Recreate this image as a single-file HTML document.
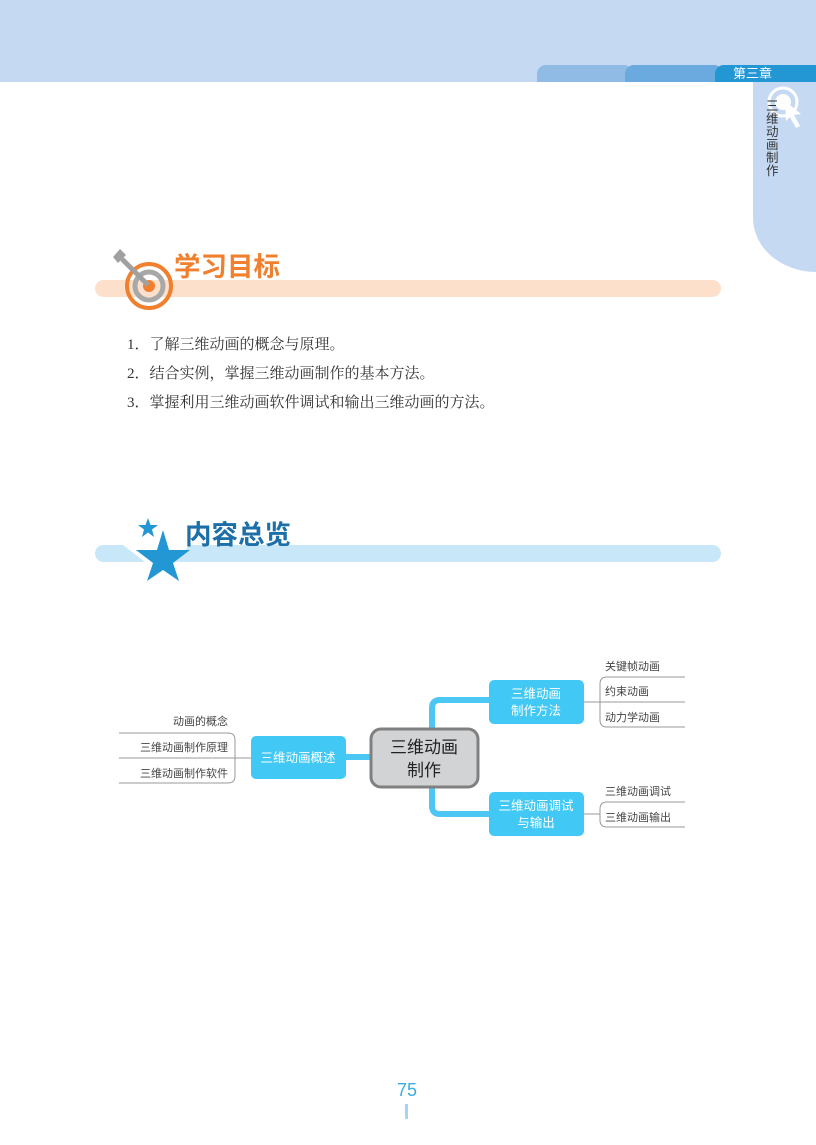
<!DOCTYPE html>
<html><head><meta charset="utf-8"><style>
*{margin:0;padding:0}
body{width:816px;height:1145px;position:relative;background:#fff;font-family:"Liberation Sans","Noto Sans CJK SC",sans-serif;overflow:hidden}
.a{position:absolute}
.li{position:absolute;left:127px;font-family:"Liberation Serif","Noto Serif CJK SC",serif;font-size:15px;color:#333}
</style></head><body>
<div class="a" style="left:0;top:0;width:816px;height:82px;background:#c5daf2"></div>
<div class="a" style="left:537px;top:65px;width:96px;height:17px;background:#8fbbe5;border-radius:9px 9px 0 0"></div>
<div class="a" style="left:625px;top:65px;width:98px;height:17px;background:#6aaadf;border-radius:9px 9px 0 0"></div>
<div class="a" style="left:715px;top:65px;width:101px;height:17px;background:#2396d4;border-radius:9px 0 0 0;color:#fff;font-size:13px;line-height:17px;text-indent:18px">第三章</div>
<div class="a" style="left:753px;top:82px;width:63px;height:190px;background:#c5daf2;border-radius:0 0 0 70px / 0 0 0 60px"></div>
<svg class="a" style="left:760px;top:84px" width="50" height="50"><circle cx="23" cy="18" r="14" fill="none" stroke="#fff" stroke-width="3"/><circle cx="23" cy="18" r="8" fill="#fff"/><path d="M25 17 L41 30 L34 31 L40 42 L36 44 L30 33 L26 37 Z" fill="#fff"/></svg>
<div class="a" style="left:766px;top:100px;width:14px;font-size:12.5px;line-height:13px;color:#333">三维动画制作</div>

<div class="a" style="left:95px;top:280px;width:626px;height:17px;background:#fde0cc;border-radius:9px"></div>
<svg class="a" style="left:108px;top:245px" width="70" height="70"><circle cx="41" cy="41" r="22" fill="none" stroke="#f07f2e" stroke-width="4"/><circle cx="41" cy="41" r="14" fill="none" stroke="#a8a8a8" stroke-width="5"/><circle cx="41" cy="41" r="6" fill="#f07f2e"/><line x1="14" y1="14" x2="40" y2="40" stroke="#a0a0a0" stroke-width="5"/><path d="M5 12 L12 4 L18 10 L10 18Z" fill="#a0a0a0"/></svg>
<div class="a" style="left:174px;top:245px;font-size:26.5px;font-weight:bold;color:#f07f2e">学习目标</div>

<div class="li" style="top:333px">1．了解三维动画的概念与原理。</div>
<div class="li" style="top:362px">2．结合实例，掌握三维动画制作的基本方法。</div>
<div class="li" style="top:391px">3．掌握利用三维动画软件调试和输出三维动画的方法。</div>

<div class="a" style="left:95px;top:545px;width:626px;height:17px;background:#c8e7f8;border-radius:9px"></div>
<svg class="a" style="left:115px;top:510px" width="90" height="75"><polygon points="8,35 30,52 58,52 75,35" fill="#fff"/><polygon points="33,8 35.5,15 43,15 37,19.5 39,27 33,22.5 27,27 29,19.5 23,15 30.5,15" fill="#2396d4"/><polygon points="48,20 54,40 75,40 58,53 64,71 48,60 32,71 38,53 21,40 42,40" fill="#2396d4"/></svg>
<div class="a" style="left:185px;top:513px;font-size:26.5px;font-weight:bold;color:#1c6fa8">内容总览</div>

<svg class="a" style="left:0;top:0" width="816" height="1145" font-family="Liberation Sans,Noto Sans CJK SC,sans-serif">
<g fill="none" stroke="#4cc6f2" stroke-width="6">
<line x1="345" y1="757" x2="372" y2="757"/>
<path d="M432 730 V708 Q432 700 440 700 H490"/>
<path d="M432 786 V806 Q432 814 440 814 H490"/>
</g>
<g fill="none" stroke="#999" stroke-width="1">
<path d="M583 702 H600"/><path d="M685 677 H607 Q600 677 600 684 V720 Q600 727 607 727 H685"/><line x1="600" y1="702" x2="685" y2="702"/>
<path d="M583 814 H600"/><path d="M685 802 H607 Q600 802 600 809 V820 Q600 827 607 827 H685"/>
<path d="M251 758 H235"/><path d="M119 733 H228 Q235 733 235 740 V776 Q235 783 228 783 H119"/><line x1="119" y1="758" x2="235" y2="758"/>
</g>
<rect x="371" y="729" width="107" height="58" rx="10" fill="#d2d3d5" stroke="#808080" stroke-width="3"/>
<text x="424" y="753" font-size="17" text-anchor="middle" fill="#222">三维动画</text>
<text x="424" y="776" font-size="17" text-anchor="middle" fill="#222">制作</text>
<rect x="251" y="736" width="95" height="43" rx="5" fill="#42c8f4"/>
<text x="298" y="762" font-size="12.5" text-anchor="middle" fill="#fff">三维动画概述</text>
<rect x="489" y="680" width="95" height="44" rx="5" fill="#42c8f4"/>
<text x="536" y="698" font-size="12.5" text-anchor="middle" fill="#fff">三维动画</text>
<text x="536" y="715" font-size="12.5" text-anchor="middle" fill="#fff">制作方法</text>
<rect x="489" y="792" width="95" height="44" rx="5" fill="#42c8f4"/>
<text x="536" y="810" font-size="12.5" text-anchor="middle" fill="#fff">三维动画调试</text>
<text x="536" y="827" font-size="12.5" text-anchor="middle" fill="#fff">与输出</text>
<g font-size="11" fill="#444">
<text x="605" y="670">关键帧动画</text><text x="605" y="695">约束动画</text><text x="605" y="721">动力学动画</text>
<text x="605" y="795">三维动画调试</text><text x="605" y="821">三维动画输出</text>
<g text-anchor="end"><text x="228" y="725">动画的概念</text><text x="228" y="751">三维动画制作原理</text><text x="228" y="777">三维动画制作软件</text></g>
</g>
</svg>
<div class="a" style="left:380px;top:1080px;width:54px;text-align:center;font-size:18px;color:#3aaee0">75</div>
<div class="a" style="left:405px;top:1104px;width:3px;height:15px;background:#a8d4f0"></div>
</body></html>
